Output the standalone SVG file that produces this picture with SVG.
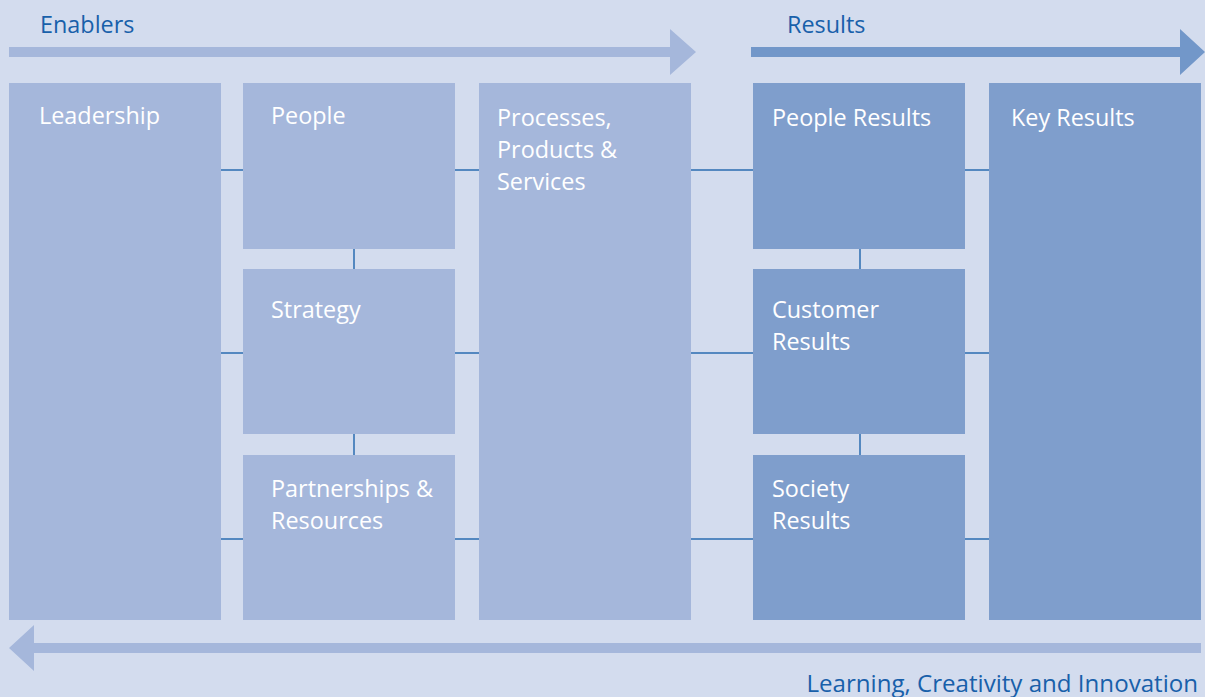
<svg xmlns="http://www.w3.org/2000/svg" width="1205" height="697" viewBox="0 0 1205 697">
  <style>
    .bg { fill: #d3dcee; }
    .enabler { fill: #a5b7db; }
    .result { fill: #7f9ecc; }
    .label { font-family: "Open Sans", "Noto Sans", sans-serif; font-size: 23.4px; fill: #ffffff; }
    .head { font-family: "Open Sans", "Noto Sans", sans-serif; font-size: 23.4px; fill: #1860aa; }
    .link { stroke: #2a6db0; stroke-width: 1.5; fill: none; }
  </style>

  <rect class="bg" x="0" y="0" width="1205" height="697"/>

  <!-- flow arrows -->
  <g id="arrows">
    <polygon fill="#a5b7db" points="9,47 670,47 670,29 696,52 670,75 670,57 9,57"/>
    <polygon fill="#7297c9" points="751,47 1180,47 1180,29 1205,52 1180,75 1180,57 751,57"/>
    <polygon fill="#a5b7db" points="1201,643 34,643 34,625 9,648 34,671 34,653 1201,653"/>
  </g>

  <!-- connectors -->
  <g id="connectors">
    <line class="link" x1="221" y1="170" x2="243" y2="170"/>
    <line class="link" x1="221" y1="353" x2="243" y2="353"/>
    <line class="link" x1="221" y1="539" x2="243" y2="539"/>
    <line class="link" x1="455" y1="170" x2="479" y2="170"/>
    <line class="link" x1="455" y1="353" x2="479" y2="353"/>
    <line class="link" x1="455" y1="539" x2="479" y2="539"/>
    <line class="link" x1="691" y1="170" x2="753" y2="170"/>
    <line class="link" x1="691" y1="353" x2="753" y2="353"/>
    <line class="link" x1="691" y1="539" x2="753" y2="539"/>
    <line class="link" x1="965" y1="170" x2="989" y2="170"/>
    <line class="link" x1="965" y1="353" x2="989" y2="353"/>
    <line class="link" x1="965" y1="539" x2="989" y2="539"/>
    <line class="link" x1="354" y1="249" x2="354" y2="269"/>
    <line class="link" x1="354" y1="434" x2="354" y2="455"/>
    <line class="link" x1="860" y1="249" x2="860" y2="269"/>
    <line class="link" x1="860" y1="434" x2="860" y2="455"/>
  </g>

  <!-- nodes -->
  <g id="leadership">
    <rect class="enabler" x="9" y="83" width="212" height="537"/>
    <text class="label" x="39" y="124">Leadership</text>
  </g>
  <g id="people">
    <rect class="enabler" x="243" y="83" width="212" height="166"/>
    <text class="label" x="271" y="124">People</text>
  </g>
  <g id="strategy">
    <rect class="enabler" x="243" y="269" width="212" height="165"/>
    <text class="label" x="271" y="318">Strategy</text>
  </g>
  <g id="partnerships">
    <rect class="enabler" x="243" y="455" width="212" height="165"/>
    <text class="label" x="271" y="497">Partnerships &amp;</text>
    <text class="label" x="271" y="529">Resources</text>
  </g>
  <g id="processes">
    <rect class="enabler" x="479" y="83" width="212" height="537"/>
    <text class="label" x="497" y="126">Processes,</text>
    <text class="label" x="497" y="158">Products &amp;</text>
    <text class="label" x="497" y="190">Services</text>
  </g>
  <g id="people-results">
    <rect class="result" x="753" y="83" width="212" height="166"/>
    <text class="label" x="772" y="126">People Results</text>
  </g>
  <g id="customer-results">
    <rect class="result" x="753" y="269" width="212" height="165"/>
    <text class="label" x="772" y="318">Customer</text>
    <text class="label" x="772" y="350">Results</text>
  </g>
  <g id="society-results">
    <rect class="result" x="753" y="455" width="212" height="165"/>
    <text class="label" x="772" y="497">Society</text>
    <text class="label" x="772" y="529">Results</text>
  </g>
  <g id="key-results">
    <rect class="result" x="989" y="83" width="212" height="537"/>
    <text class="label" x="1011" y="126">Key Results</text>
  </g>

  <!-- headings -->
  <text class="head" x="40" y="33">Enablers</text>
  <text class="head" x="787" y="33">Results</text>
  <text class="head" x="1198" y="692" text-anchor="end" style="font-size:24.1px">Learning, Creativity and Innovation</text>
</svg>
